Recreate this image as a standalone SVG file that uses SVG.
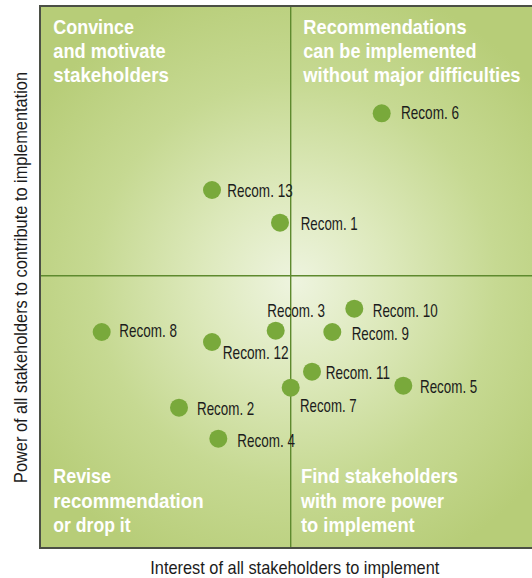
<svg xmlns="http://www.w3.org/2000/svg" width="532" height="578" viewBox="0 0 532 578">
  <defs>
    <radialGradient id="bg" gradientUnits="userSpaceOnUse" cx="295" cy="282" r="310">
      <stop offset="0" stop-color="#eef4df"/>
      <stop offset="0.3" stop-color="#dde9bc"/>
      <stop offset="0.65" stop-color="#c6d992"/>
      <stop offset="1" stop-color="#b7cd78"/>
    </radialGradient>
    <style>
      .dot { fill: #79a93b; }
      .lbl { font-family: "Liberation Sans", Arial, sans-serif; font-size: 18.5px; fill: #1c1c1c; }
      .ttl { font-family: "Liberation Sans", Arial, sans-serif; font-size: 21px; font-weight: bold; fill: #ffffff; }
      .axis { font-family: "Liberation Sans", Arial, sans-serif; font-size: 19px; fill: #1c1c1c; }
      .qline { stroke: #5e8a2e; stroke-width: 1.4; fill: none; }
    </style>
  </defs>
  <rect width="532" height="578" fill="#ffffff"/>
  <g id="plot">
    <rect x="40" y="6" width="500" height="542" fill="url(#bg)" stroke="#4b4f45" stroke-width="2"/>
  </g>
  <g id="connectors">
    <line class="qline" x1="290.7" y1="7" x2="290.7" y2="547"/>
    <line class="qline" x1="41" y1="275.7" x2="532" y2="275.7"/>
  </g>
  <g id="quadrant-top-left">
    <text class="ttl" x="53.3" y="34.3" textLength="80.7" lengthAdjust="spacingAndGlyphs">Convince</text>
    <text class="ttl" x="53.3" y="58.3" textLength="112.4" lengthAdjust="spacingAndGlyphs">and motivate</text>
    <text class="ttl" x="53.3" y="81.7" textLength="115.7" lengthAdjust="spacingAndGlyphs">stakeholders</text>
  </g>
  <g id="quadrant-top-right">
    <text class="ttl" x="303.3" y="34.3" textLength="163.3" lengthAdjust="spacingAndGlyphs">Recommendations</text>
    <text class="ttl" x="303.3" y="57.8" textLength="173.3" lengthAdjust="spacingAndGlyphs">can be implemented</text>
    <text class="ttl" transform="translate(303.3,81.7) scale(0.875,1)" x="0" y="0" textLength="248.3" lengthAdjust="spacingAndGlyphs">without major difficulties</text>
  </g>
  <g id="quadrant-bottom-left">
    <text class="ttl" x="53.3" y="483.4" textLength="57.7" lengthAdjust="spacingAndGlyphs">Revise</text>
    <text class="ttl" x="53.3" y="507.9" textLength="150.3" lengthAdjust="spacingAndGlyphs">recommendation</text>
    <text class="ttl" x="53.3" y="531.6" textLength="77.3" lengthAdjust="spacingAndGlyphs">or drop it</text>
  </g>
  <g id="quadrant-bottom-right">
    <text class="ttl" x="301" y="483.4" textLength="157" lengthAdjust="spacingAndGlyphs">Find stakeholders</text>
    <text class="ttl" x="301" y="507.9" textLength="142.9" lengthAdjust="spacingAndGlyphs">with more power</text>
    <text class="ttl" x="301" y="531.6" textLength="113.7" lengthAdjust="spacingAndGlyphs">to implement</text>
  </g>
  <g id="recom-6"><circle class="dot" cx="381.7" cy="113.3" r="9"/><text class="lbl" x="401" y="119.3" textLength="58" lengthAdjust="spacingAndGlyphs">Recom. 6</text></g>
  <g id="recom-13"><circle class="dot" cx="212" cy="190" r="9"/><text class="lbl" x="227.3" y="197.3" textLength="65.4" lengthAdjust="spacingAndGlyphs">Recom. 13</text></g>
  <g id="recom-1"><circle class="dot" cx="280" cy="222.7" r="9"/><text class="lbl" x="300.7" y="230" textLength="57" lengthAdjust="spacingAndGlyphs">Recom. 1</text></g>
  <g id="recom-3"><circle class="dot" cx="275.7" cy="330.7" r="9"/><text class="lbl" x="267.3" y="316.7" textLength="57.7" lengthAdjust="spacingAndGlyphs">Recom. 3</text></g>
  <g id="recom-10"><circle class="dot" cx="354.3" cy="308.7" r="9"/><text class="lbl" x="372.7" y="316.7" textLength="65" lengthAdjust="spacingAndGlyphs">Recom. 10</text></g>
  <g id="recom-9"><circle class="dot" cx="332.3" cy="332" r="9"/><text class="lbl" x="351.7" y="340" textLength="57.3" lengthAdjust="spacingAndGlyphs">Recom. 9</text></g>
  <g id="recom-8"><circle class="dot" cx="101.7" cy="332" r="9"/><text class="lbl" x="119.3" y="336.7" textLength="57.7" lengthAdjust="spacingAndGlyphs">Recom. 8</text></g>
  <g id="recom-12"><circle class="dot" cx="212" cy="342" r="9"/><text class="lbl" x="222.7" y="359.3" textLength="66" lengthAdjust="spacingAndGlyphs">Recom. 12</text></g>
  <g id="recom-11"><circle class="dot" cx="312" cy="371.7" r="9"/><text class="lbl" x="325.7" y="379.3" textLength="64.3" lengthAdjust="spacingAndGlyphs">Recom. 11</text></g>
  <g id="recom-5"><circle class="dot" cx="403.3" cy="385.7" r="9"/><text class="lbl" x="420" y="393.3" textLength="57.3" lengthAdjust="spacingAndGlyphs">Recom. 5</text></g>
  <g id="recom-7"><circle class="dot" cx="290.7" cy="387.7" r="9"/><text class="lbl" x="300" y="411.7" textLength="56.7" lengthAdjust="spacingAndGlyphs">Recom. 7</text></g>
  <g id="recom-2"><circle class="dot" cx="179" cy="407.7" r="9"/><text class="lbl" x="197" y="415.3" textLength="57.3" lengthAdjust="spacingAndGlyphs">Recom. 2</text></g>
  <g id="recom-4"><circle class="dot" cx="218.3" cy="438.7" r="9"/><text class="lbl" x="237.3" y="446.7" textLength="57.7" lengthAdjust="spacingAndGlyphs">Recom. 4</text></g>
  <g id="axis-labels">
    <text class="axis" x="150.3" y="574" textLength="289" lengthAdjust="spacingAndGlyphs">Interest of all stakeholders to implement</text>
    <text class="axis" transform="translate(27,483) rotate(-90)" x="0" y="0" textLength="411" lengthAdjust="spacingAndGlyphs">Power of all stakeholders to contribute to implementation</text>
  </g>
</svg>
